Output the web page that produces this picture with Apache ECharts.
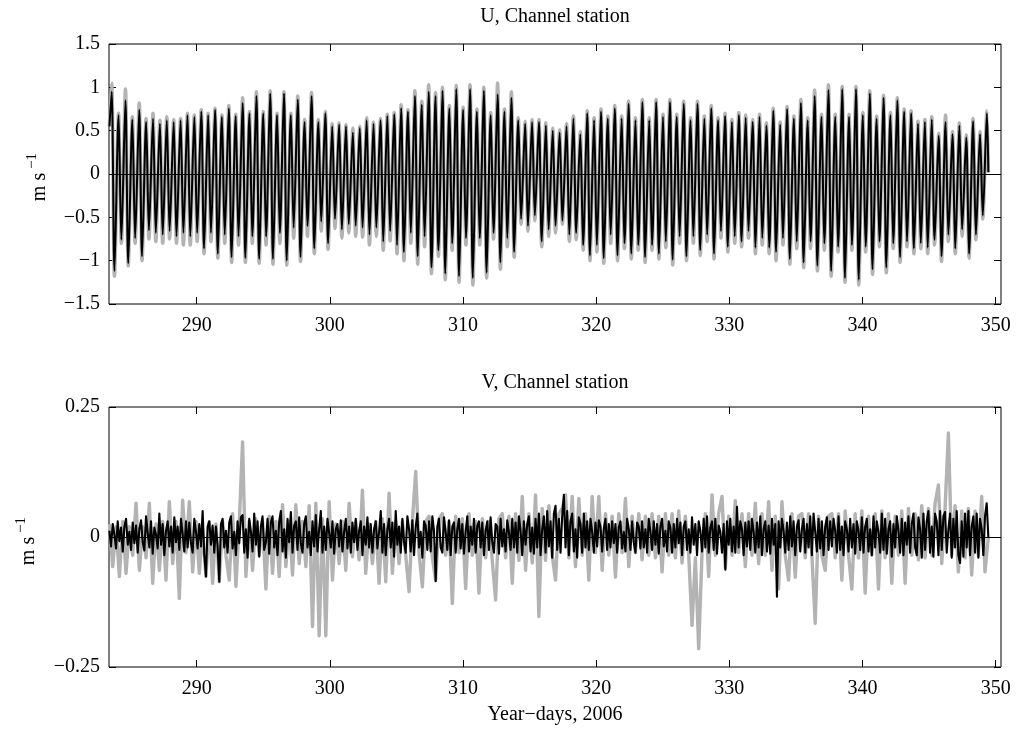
<!DOCTYPE html>
<html>
<head>
<meta charset="utf-8">
<title>Channel station velocities</title>
<script src="https://cdn.jsdelivr.net/npm/echarts@6/dist/echarts.min.js"></script>
<style>
  html, body { margin: 0; padding: 0; background: #fff; }
  #chart { width: 1016px; height: 730px; }
</style>
</head>
<body>
<div id="chart"></div>
<script>
// ---- U component: successive flood maxima and ebb minima (m/s) ----
const U_FIRST_DAY = 283.45, U_FIRST_VAL = 0.55;   // start of record
const U_LAST_DAY = 349.45, U_LAST_VAL = 0.02;     // end of record
const HIGH0 = 283.62;       // time of first flood maximum (year-day)
const TIDE_PERIOD = 0.5175; // semidiurnal period, days
const EBB_LAG = 0.21;       // maximum to following minimum, days

const uHighBlack = [
  0.95, 0.68, 0.85, 0.63, 0.74, 0.60, 0.64, 0.58, 0.62, 0.60,
  0.62, 0.68, 0.66, 0.72, 0.68, 0.74, 0.66, 0.76, 0.67, 0.82,
  0.70, 0.90, 0.70, 0.93, 0.68, 0.93, 0.68, 0.86, 0.60, 0.90,
  0.60, 0.70, 0.55, 0.57, 0.55, 0.48, 0.53, 0.62, 0.58, 0.62,
  0.67, 0.69, 0.76, 0.72, 0.90, 0.80, 0.95, 0.90, 0.96, 0.76,
  0.98, 0.74, 0.98, 0.72, 0.96, 0.68, 0.92, 0.72, 0.88, 0.62,
  0.58, 0.60, 0.60, 0.56, 0.50, 0.48, 0.55, 0.64, 0.46, 0.70,
  0.62, 0.72, 0.64, 0.76, 0.64, 0.81, 0.62, 0.83, 0.62, 0.83,
  0.66, 0.83, 0.66, 0.81, 0.62, 0.81, 0.64, 0.76, 0.62, 0.67,
  0.60, 0.68, 0.65, 0.60, 0.66, 0.56, 0.73, 0.57, 0.75, 0.64,
  0.82, 0.62, 0.90, 0.66, 0.97, 0.66, 0.98, 0.66, 0.98, 0.68,
  0.93, 0.64, 0.88, 0.68, 0.85, 0.72, 0.70, 0.58, 0.60, 0.63,
  0.44, 0.60, 0.46, 0.56, 0.42, 0.61, 0.46, 0.70
];
const uLowBlack = [
  -1.12, -0.76, -1.03, -0.74, -0.95, -0.65, -0.68, -0.70, -0.66, -0.72,
  -0.68, -0.72, -0.68, -0.86, -0.68, -0.92, -0.70, -0.96, -0.72, -0.97,
  -0.72, -0.98, -0.72, -0.98, -0.68, -1.00, -0.62, -0.96, -0.60, -0.86,
  -0.55, -0.80, -0.52, -0.64, -0.58, -0.60, -0.62, -0.70, -0.62, -0.78,
  -0.66, -0.82, -0.90, -0.68, -0.95, -0.72, -1.08, -0.88, -1.15, -0.80,
  -1.18, -0.74, -1.20, -0.74, -1.14, -0.68, -1.02, -0.74, -0.90, -0.52,
  -0.60, -0.48, -0.78, -0.64, -0.60, -0.54, -0.70, -0.68, -0.82, -0.94,
  -0.82, -0.97, -0.70, -0.94, -0.80, -0.92, -0.82, -0.96, -0.82, -0.92,
  -0.78, -0.99, -0.72, -0.95, -0.72, -0.88, -0.70, -0.92, -0.66, -0.84,
  -0.72, -0.78, -0.66, -0.85, -0.74, -0.85, -0.90, -0.74, -0.98, -0.78,
  -1.02, -0.78, -1.06, -0.80, -1.12, -0.84, -1.20, -0.82, -1.22, -0.84,
  -1.10, -0.78, -1.08, -0.80, -0.96, -0.78, -0.86, -0.80, -0.85, -0.76,
  -0.95, -0.70, -0.86, -0.64, -0.92, -0.70, -0.48
];
const uHighGray = [
  1.05, 0.70, 0.98, 0.66, 0.82, 0.64, 0.70, 0.62, 0.66, 0.63,
  0.64, 0.70, 0.68, 0.74, 0.70, 0.76, 0.68, 0.79, 0.69, 0.88,
  0.72, 0.95, 0.72, 0.96, 0.70, 0.95, 0.70, 0.90, 0.63, 0.94,
  0.63, 0.72, 0.58, 0.59, 0.57, 0.53, 0.55, 0.65, 0.60, 0.64,
  0.69, 0.71, 0.80, 0.74, 0.96, 0.84, 1.03, 0.94, 1.00, 0.79,
  1.02, 0.77, 1.03, 0.75, 1.00, 0.71, 1.05, 0.75, 0.95, 0.65,
  0.61, 0.63, 0.63, 0.59, 0.53, 0.51, 0.58, 0.67, 0.49, 0.73,
  0.65, 0.75, 0.67, 0.79, 0.67, 0.84, 0.65, 0.86, 0.65, 0.86,
  0.69, 0.86, 0.69, 0.84, 0.65, 0.84, 0.67, 0.79, 0.65, 0.70,
  0.63, 0.71, 0.68, 0.63, 0.69, 0.59, 0.76, 0.60, 0.78, 0.67,
  0.86, 0.65, 0.97, 0.69, 1.03, 0.69, 1.01, 0.69, 1.01, 0.71,
  0.96, 0.67, 0.91, 0.71, 0.88, 0.75, 0.73, 0.61, 0.63, 0.66,
  0.47, 0.68, 0.49, 0.59, 0.45, 0.64, 0.49, 0.73
];
const uLowGray = [
  -1.18, -0.80, -1.06, -0.80, -1.00, -0.75, -0.78, -0.80, -0.75, -0.80,
  -0.82, -0.82, -0.78, -0.92, -0.78, -0.97, -0.80, -1.02, -0.82, -1.02,
  -0.80, -1.03, -0.82, -1.04, -0.80, -1.05, -0.74, -1.01, -0.72, -0.92,
  -0.66, -0.87, -0.63, -0.74, -0.68, -0.72, -0.73, -0.82, -0.72, -0.88,
  -0.77, -0.92, -1.00, -0.80, -1.04, -0.84, -1.15, -0.95, -1.22, -0.88,
  -1.25, -0.82, -1.28, -0.82, -1.20, -0.75, -1.10, -0.84, -0.96, -0.58,
  -0.66, -0.54, -0.84, -0.72, -0.68, -0.58, -0.78, -0.76, -0.88, -1.00,
  -0.90, -1.03, -0.80, -1.00, -0.86, -0.98, -0.88, -1.02, -0.88, -0.98,
  -0.85, -1.05, -0.80, -1.00, -0.80, -0.94, -0.78, -0.98, -0.74, -0.90,
  -0.80, -0.84, -0.74, -0.92, -0.82, -0.92, -1.00, -0.82, -1.04, -0.86,
  -1.08, -0.86, -1.12, -0.88, -1.18, -0.90, -1.25, -0.88, -1.28, -0.90,
  -1.16, -0.84, -1.14, -0.86, -1.02, -0.84, -0.92, -0.86, -0.92, -0.82,
  -1.01, -0.78, -0.92, -0.72, -0.97, -0.76, -0.52
];

// ---- V component (m/s) ----
// black: samples every 3 h; gray: samples every 6 h; both from V_FIRST_DAY
const V_FIRST_DAY = 283.45;
const V_STEP_BLACK = 0.125;
const V_STEP_GRAY = 0.25;
const vBlack = [
  0.012, -0.018, 0.025, 0.004, -0.022, 0.030, -0.008, 0.018, -0.028, 0.020, 0.035, -0.015, 0.010, -0.025, 0.028, -0.012,
  0.022, -0.030, 0.015, 0.032, -0.010, -0.026, 0.040, 0.008, -0.020, 0.030, -0.032, 0.018, 0.005, -0.022, 0.045, -0.015,
  0.025, -0.035, 0.012, 0.030, -0.018, 0.020, -0.030, 0.038, -0.010, 0.020, -0.025, 0.035, 0.006, -0.028, 0.030, -0.020,
  0.028, -0.012, -0.030, 0.035, 0.010, -0.022, 0.025, -0.018, 0.050, -0.035, -0.076, 0.020, 0.030, -0.015, 0.022, -0.030,
  0.020, -0.018, -0.086, 0.025, 0.035, -0.020, 0.012, -0.030, 0.028, 0.040, -0.022, 0.010, -0.035, 0.030, -0.012, 0.038,
  0.042, -0.030, 0.015, -0.040, 0.035, 0.010, -0.028, 0.045, -0.015, 0.030, -0.038, 0.020, 0.040, -0.025, -0.010, 0.035,
  -0.032, 0.028, 0.040, -0.020, 0.012, -0.035, 0.030, 0.050, -0.028, 0.015, -0.040, 0.035, -0.010, 0.048, -0.030, 0.022,
  0.030, -0.025, 0.038, -0.012, -0.030, 0.025, 0.040, -0.020, 0.010, -0.035, 0.030, -0.018, 0.042, -0.028, 0.015, 0.050,
  -0.030, 0.020, -0.025, 0.035, 0.008, -0.020, 0.030, -0.032, 0.015, 0.025, -0.018, 0.032, -0.028, 0.010, 0.035, -0.022,
  0.020, -0.030, 0.028, -0.010, 0.035, -0.025, 0.012, 0.030, -0.035, 0.020, -0.015, 0.038, -0.020, 0.025, -0.030, 0.015,
  0.030, -0.022, 0.010, 0.050, -0.030, 0.025, -0.035, 0.015, 0.035, -0.020, 0.028, -0.038, 0.050, -0.015, 0.020, -0.030,
  0.035, -0.010, -0.030, 0.040, 0.015, -0.028, 0.032, -0.035, 0.020, 0.045, -0.020, 0.010, -0.040, 0.030, 0.022, -0.025,
  0.030, -0.028, 0.040, 0.012, -0.085, 0.020, 0.035, -0.020, -0.030, 0.038, 0.010, -0.025, 0.032, -0.035, 0.020, 0.028,
  -0.030, 0.015, 0.035, -0.022, 0.025, -0.032, 0.010, 0.040, -0.028, 0.020, -0.015, 0.035, -0.030, 0.022, 0.030, -0.020,
  0.028, -0.035, 0.012, 0.030, -0.025, 0.038, -0.010, -0.030, 0.025, 0.020, -0.032, 0.035, -0.018, 0.015, -0.028, 0.032,
  0.010, -0.025, 0.035, -0.020, 0.028, -0.030, 0.040, 0.012, -0.035, 0.030, -0.015, 0.025, 0.040, -0.028, 0.018, -0.032,
  0.035, -0.020, 0.045, -0.035, 0.015, 0.040, -0.030, 0.050, -0.018, 0.030, -0.040, 0.045, 0.060, -0.025, 0.035, -0.030,
  0.040, 0.081, -0.020, 0.050, -0.035, 0.030, 0.045, -0.028, 0.015, -0.040, 0.038, 0.025, -0.030, 0.045, -0.020, 0.030,
  -0.025, 0.035, 0.010, -0.030, 0.028, -0.018, 0.032, 0.020, -0.028, 0.015, 0.035, -0.025, 0.025, -0.020, 0.030, -0.012,
  0.025, -0.030, 0.018, 0.030, -0.022, 0.010, -0.028, 0.035, 0.015, -0.025, 0.030, -0.010, -0.030, 0.028, 0.020, -0.022,
  0.030, -0.020, 0.015, -0.030, 0.035, 0.010, -0.025, 0.030, -0.015, 0.025, -0.032, 0.020, 0.035, -0.018, 0.012, -0.028,
  0.030, 0.018, -0.030, 0.025, -0.020, 0.035, -0.012, 0.028, -0.035, 0.020, 0.030, -0.025, 0.015, -0.030, 0.038, -0.015,
  0.025, -0.035, 0.030, 0.012, -0.028, 0.035, -0.020, 0.040, -0.030, 0.018, 0.030, -0.025, 0.035, -0.032, 0.022, 0.010,
  -0.030, 0.025, -0.063, 0.030, -0.015, 0.035, -0.028, 0.020, -0.030, 0.058, -0.020, 0.030, 0.015, -0.035, 0.028, -0.018,
  0.030, -0.025, 0.035, 0.010, -0.030, 0.028, -0.020, 0.040, -0.035, 0.015, 0.030, -0.028, 0.022, -0.032, 0.035, -0.015,
  0.025, -0.115, 0.030, -0.020, 0.035, 0.012, -0.030, 0.028, -0.025, 0.040, -0.018, 0.030, -0.035, 0.020, 0.032, -0.028,
  0.015, 0.035, -0.030, 0.025, -0.020, 0.040, -0.035, 0.045, 0.010, -0.028, 0.035, -0.022, 0.030, -0.035, 0.020, 0.038,
  -0.025, 0.030, -0.018, 0.035, 0.012, -0.030, 0.040, -0.025, 0.020, -0.035, 0.030, 0.015, -0.028, 0.035, -0.020, 0.025,
  -0.032, 0.030, 0.012, -0.025, 0.038, -0.030, 0.020, 0.035, -0.028, 0.015, -0.035, 0.040, -0.020, 0.030, 0.010, -0.030,
  0.045, -0.025, 0.035, -0.032, 0.015, 0.030, -0.038, 0.025, -0.020, 0.040, 0.012, -0.030, 0.035, -0.035, 0.028, -0.015,
  0.040, -0.030, 0.025, 0.045, -0.020, -0.035, 0.038, 0.015, -0.040, 0.045, -0.025, 0.030, 0.050, -0.030, 0.020, -0.038,
  0.045, 0.030, -0.035, 0.050, -0.025, 0.040, 0.048, -0.030, 0.015, 0.045, -0.040, 0.035, -0.020, 0.050, -0.035, -0.050,
  0.030, -0.038, 0.045, -0.020, 0.050, -0.035, 0.020, 0.040, -0.030, 0.045, -0.040, 0.035, 0.015, -0.035, 0.040, 0.065,
  0.000
];
const vGray = [
  0.025, -0.057, 0.020, -0.076, 0.030, -0.070, 0.020, -0.035,
  0.065, -0.064, 0.020, -0.040, 0.065, -0.089, 0.025, -0.064,
  0.030, -0.083, 0.068, -0.051, 0.030, -0.118, 0.071, -0.030,
  0.068, -0.067, 0.030, -0.070, 0.015, -0.076, 0.030, -0.089,
  0.025, -0.086, 0.030, -0.035, -0.083, 0.045, -0.095, 0.025,
  0.183, -0.076, 0.030, -0.064, 0.035, -0.035, 0.030, -0.100,
  0.040, -0.070, 0.030, -0.076, 0.062, -0.057, 0.030, -0.073,
  0.062, -0.051, 0.030, -0.057, 0.060, -0.172, 0.065, -0.190,
  0.035, -0.190, 0.068, -0.083, 0.025, -0.051, 0.030, -0.064,
  0.065, -0.038, 0.030, -0.044, 0.090, -0.070, 0.025, -0.051,
  0.030, -0.089, 0.035, -0.086, 0.084, -0.070, 0.030, -0.051,
  0.030, -0.035, -0.105, 0.030, 0.126, -0.030, -0.096, 0.030,
  0.040, -0.040, -0.083, 0.035, 0.045, -0.035, 0.030, -0.128,
  0.040, -0.030, 0.035, -0.099, 0.045, -0.035, 0.030, -0.108,
  0.035, -0.040, 0.030, -0.045, -0.121, 0.035, 0.045, -0.040,
  0.040, -0.089, 0.045, -0.045, 0.078, -0.064, 0.045, -0.050,
  0.081, -0.153, 0.055, -0.045, 0.060, -0.035, -0.083, 0.045,
  0.055, 0.081, -0.040, 0.078, -0.057, 0.074, -0.035, 0.045,
  -0.083, 0.078, -0.030, 0.078, -0.064, 0.045, -0.035, 0.040,
  -0.077, 0.045, -0.030, 0.074, -0.057, 0.040, -0.030, 0.045,
  -0.044, 0.040, -0.035, 0.045, -0.040, 0.040, -0.067, 0.045,
  -0.035, 0.045, -0.040, 0.050, -0.050, 0.040, -0.035, -0.170,
  -0.040, -0.215, -0.030, 0.045, -0.076, 0.081, -0.035, 0.045,
  0.078, -0.060, 0.040, -0.035, 0.070, -0.030, 0.045, -0.057,
  0.045, -0.035, 0.065, -0.051, 0.045, -0.035, 0.068, -0.064,
  0.040, -0.100, 0.068, -0.035, -0.083, 0.045, -0.077, 0.040,
  0.045, -0.040, 0.045, -0.035, -0.166, 0.040, -0.035, -0.064,
  0.040, 0.045, -0.040, 0.045, -0.083, 0.050, -0.035, -0.100,
  0.045, -0.040, 0.050, -0.108, 0.040, -0.035, 0.045, -0.100,
  0.050, -0.040, 0.045, -0.089, 0.040, -0.035, 0.050, -0.089,
  0.055, -0.035, 0.045, -0.044, 0.060, -0.040, 0.055, -0.035,
  0.065, 0.100, -0.051, 0.055, 0.200, -0.035, 0.060, -0.067,
  0.050, -0.040, 0.055, -0.073, 0.050, -0.035, 0.078, -0.067,
  0.000
];

// ---- axes ----
const X_MIN = 283.42, X_MAX = 350.4;
const xTicks = [290, 300, 310, 320, 330, 340, 350];
const uTicks = [-1.5, -1, -0.5, 0, 0.5, 1, 1.5];
const vTicks = [-0.25, 0, 0.25];

const FONT = '"Liberation Serif", "Times New Roman", serif';
const MINUS = '\u2212';

function tideTrack(highs, lows) {
  const pts = [[U_FIRST_DAY, U_FIRST_VAL]];
  for (let k = 0; k < highs.length; k++) {
    const tHigh = HIGH0 + k * TIDE_PERIOD;
    pts.push([tHigh, highs[k]]);
    if (k < lows.length) pts.push([tHigh + EBB_LAG, lows[k]]);
  }
  pts.push([U_LAST_DAY, U_LAST_VAL]);
  return pts;
}
function sampled(values, step) {
  return values.map((v, i) => [V_FIRST_DAY + i * step, v]);
}
function fmt(v) {
  const s = String(Math.abs(v));
  return v < 0 ? MINUS + s : s;
}

const grids = [
  { left: 109, top: 44, width: 892, height: 260 },
  { left: 109, top: 407, width: 892, height: 260 }
];

function xAxes(gridIndex) {
  const base = {
    gridIndex, type: 'value', min: X_MIN, max: X_MAX,
    splitLine: { show: false },
    axisLine: { show: false, onZero: false },
    axisTick: { show: true, inside: true, length: 7, customValues: xTicks,
                lineStyle: { color: '#000', width: 1 } }
  };
  return [
    Object.assign({}, base, { position: 'bottom',
      axisLabel: { customValues: xTicks, margin: 12, color: '#000',
                   fontFamily: FONT, fontSize: 20 } }),
    Object.assign({}, base, { position: 'top', axisLabel: { show: false } })
  ];
}
function yAxes(gridIndex, min, max, interval, ticks) {
  const base = {
    gridIndex, type: 'value', min, max, interval,
    splitLine: { show: false },
    axisLine: { show: false, onZero: false },
    axisTick: { show: true, inside: true, length: 7, customValues: ticks,
                lineStyle: { color: '#000', width: 1 } }
  };
  return [
    Object.assign({}, base, { position: 'left',
      axisLabel: { customValues: ticks, margin: 9, color: '#000',
                   fontFamily: FONT, fontSize: 20, formatter: fmt } }),
    Object.assign({}, base, { position: 'right', axisLabel: { show: false } })
  ];
}

function lineSeries(xi, yi, data, color, width, z, smooth, zeroLine) {
  const s = {
    type: 'line', xAxisIndex: xi, yAxisIndex: yi, data,
    showSymbol: false, symbol: 'none', smooth, z,
    lineStyle: { color, width, join: 'round' },
    emphasis: { disabled: true }, silent: true
  };
  if (zeroLine) {
    s.markLine = {
      silent: true, symbol: 'none', label: { show: false },
      lineStyle: { color: '#000', width: 1, type: 'solid' },
      data: [{ yAxis: 0 }]
    };
  }
  return s;
}

const GRAY = '#b3b3b3';
const txt = (text, x, y, extra) => Object.assign({
  type: 'text', x, y,
  style: Object.assign({ text, fill: '#000', font: '20px ' + FONT,
                         align: 'center', verticalAlign: 'middle' }, extra || {})
});

const option = {
  animation: false,
  backgroundColor: '#fff',
  grid: grids.map(g => Object.assign({ show: true, borderColor: '#000', borderWidth: 1,
                                       backgroundColor: 'transparent' }, g)),
  xAxis: [...xAxes(0), ...xAxes(1)],
  yAxis: [...yAxes(0, -1.5, 1.5, 0.5, uTicks), ...yAxes(1, -0.25, 0.25, 0.25, vTicks)],
  series: [
    lineSeries(0, 0, tideTrack(uHighGray, uLowGray), GRAY, 3.5, 2, 0.3, false),
    lineSeries(0, 0, tideTrack(uHighBlack, uLowBlack), '#000', 2, 3, 0.3, true),
    lineSeries(2, 2, sampled(vGray, V_STEP_GRAY), GRAY, 3.4, 2, false, false),
    lineSeries(2, 2, sampled(vBlack, V_STEP_BLACK), '#000', 2.1, 3, false, true)
  ],
  graphic: [
    txt('U, Channel station', 555, 17),
    txt('V, Channel station', 555, 383),
    txt('Year' + MINUS + 'days, 2006', 555, 715),
    // y-axis units, rotated, with raised exponent
    Object.assign(txt('m s', 40, 187), { rotation: Math.PI / 2 }),
    Object.assign(txt(MINUS + '1', 32, 161, { font: '15px ' + FONT }), { rotation: Math.PI / 2 }),
    Object.assign(txt('m s', 29, 551), { rotation: Math.PI / 2 }),
    Object.assign(txt(MINUS + '1', 21, 525, { font: '15px ' + FONT }), { rotation: Math.PI / 2 })
  ]
};

const chart = echarts.init(document.getElementById('chart'), null, { renderer: 'canvas' });
chart.setOption(option);
</script>
</body>
</html>
